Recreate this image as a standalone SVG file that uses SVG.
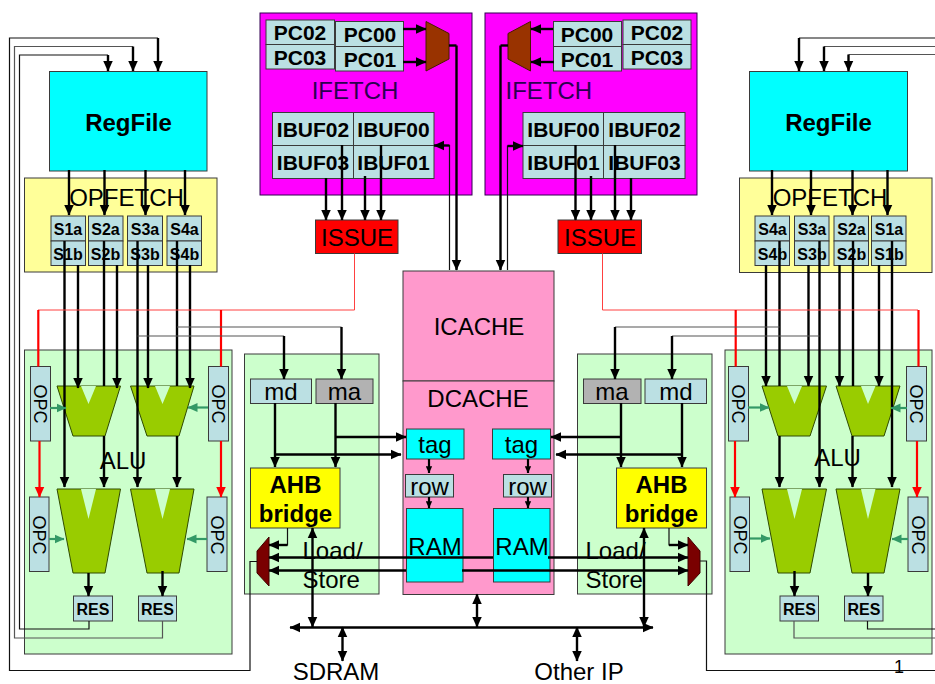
<svg xmlns="http://www.w3.org/2000/svg" width="935" height="684" viewBox="0 0 935 684">
<style>
text{font-family:"Liberation Sans",Arial,sans-serif;fill:#000;text-anchor:middle}
.s24{font-size:24px}.b24{font-size:24px;font-weight:bold}.b21{font-size:21px;font-weight:bold}.b16{font-size:16px;font-weight:bold}.s18{font-size:18px}
.st{text-anchor:start}
.pur{fill:#2b0050}
rect,polygon.n{stroke:#3a3a3a;stroke-width:1}
.box{fill:#bbe0e3}.grn{fill:#ccffcc}.cy{fill:#00ffff}.yl{fill:#ffff99}.mg{fill:#ff00ff;stroke:#300050}.pk{fill:#ff99cc}.rd{fill:#ff0000}.gy{fill:#b2b2b2}.ye{fill:#ffff00}
.ol{fill:#99cc00;stroke:#2f4a00;stroke-width:1}.nt{fill:#ccffcc}
.br{fill:#993300;stroke:#4a1a00;stroke-width:1}.dr{fill:#7a0000;stroke:#400000;stroke-width:1}
path{fill:none}
.k{stroke:#000;stroke-width:2.4;marker-end:url(#a)}
.ks{stroke:#000;stroke-width:2.2;marker-end:url(#as)}
.p{stroke:#000;stroke-width:2.4}
.d{stroke:#000;stroke-width:2.4;marker-start:url(#a);marker-end:url(#a)}
.th{stroke:#111;stroke-width:1.2}
.g{stroke:#555;stroke-width:1.2}
.r{stroke:#ff0000;stroke-width:2.2}
.ra{stroke:#ff0000;stroke-width:2.2;marker-end:url(#ar)}
.rt{stroke:#ff4040;stroke-width:1}
.t{stroke:#339966;stroke-width:2.2;marker-end:url(#at)}
</style>
<defs>
<marker id="a" viewBox="0 0 10 10" refX="9.5" refY="5" markerWidth="11" markerHeight="11" markerUnits="userSpaceOnUse" orient="auto-start-reverse"><path d="M0,0.5L10,5L0,9.5z" style="fill:#000"/></marker>
<marker id="as" viewBox="0 0 10 10" refX="9.5" refY="5" markerWidth="7" markerHeight="7" markerUnits="userSpaceOnUse" orient="auto"><path d="M0,0.5L10,5L0,9.5z" style="fill:#000"/></marker>
<marker id="ar" viewBox="0 0 10 10" refX="9.5" refY="5" markerWidth="11" markerHeight="11" markerUnits="userSpaceOnUse" orient="auto"><path d="M0,0.5L10,5L0,9.5z" style="fill:#ff0000"/></marker>
<marker id="at" viewBox="0 0 10 10" refX="9.5" refY="5" markerWidth="10" markerHeight="10" markerUnits="userSpaceOnUse" orient="auto"><path d="M0,0.5L10,5L0,9.5z" style="fill:#339966"/></marker>
</defs>

<g id="alu-left"><rect class="grn" x="24.5" y="350" width="207.5" height="304"/><text class="s24" x="123" y="469">ALU</text></g>
<g id="alu-right"><rect class="grn" x="725" y="350" width="207" height="304"/><text class="s24" x="837.5" y="466">ALU</text></g>
<g id="ls-left"><rect class="grn" x="244.5" y="354" width="134.5" height="240"/><text class="s24 st" x="302.5" y="559">Load/</text><text class="s24 st" x="302.5" y="588">Store</text></g>
<g id="ls-right"><rect class="grn" x="577.5" y="354" width="134.5" height="240"/><text class="s24 st" x="585.5" y="559">Load/</text><text class="s24 st" x="585.5" y="588">Store</text></g>

<g id="regfile-left"><rect class="cy" x="49.5" y="71.5" width="157.5" height="99.5"/><text class="b24" x="128.5" y="131">RegFile</text></g>
<g id="regfile-right"><rect class="cy" x="749.5" y="71.5" width="158" height="99.5"/><text class="b24" x="828.5" y="131">RegFile</text></g>
<g id="opfetch-left"><rect class="yl" x="24.5" y="178" width="192.5" height="94"/><text class="s24" x="126.5" y="206">OPFETCH</text></g>
<g id="opfetch-right"><rect class="yl" x="739.5" y="178" width="192.5" height="94.5"/><text class="s24" x="830" y="206">OPFETCH</text></g>

<g id="s1-left"><rect class="box" x="51" y="216" width="34.5" height="25"/><rect class="box" x="51" y="241" width="34.5" height="24.5"/><text class="b16" x="68" y="235">S1a</text><text class="b16" x="68" y="260">S1b</text></g>
<g id="s2-left"><rect class="box" x="88.5" y="216" width="34.5" height="25"/><rect class="box" x="88.5" y="241" width="34.5" height="24.5"/><text class="b16" x="105.5" y="235">S2a</text><text class="b16" x="105.5" y="260">S2b</text></g>
<g id="s3-left"><rect class="box" x="127.5" y="216" width="35" height="25"/><rect class="box" x="127.5" y="241" width="35" height="24.5"/><text class="b16" x="145" y="235">S3a</text><text class="b16" x="145" y="260">S3b</text></g>
<g id="s4-left"><rect class="box" x="167" y="216" width="34.5" height="25"/><rect class="box" x="167" y="241" width="34.5" height="24.5"/><text class="b16" x="184.5" y="235">S4a</text><text class="b16" x="184.5" y="260">S4b</text></g>
<g id="s4-right"><rect class="box" x="755" y="216" width="34.5" height="25"/><rect class="box" x="755" y="241" width="34.5" height="24.5"/><text class="b16" x="772.5" y="235">S4a</text><text class="b16" x="772.5" y="260">S4b</text></g>
<g id="s3-right"><rect class="box" x="794.5" y="216" width="34.5" height="25"/><rect class="box" x="794.5" y="241" width="34.5" height="24.5"/><text class="b16" x="812" y="235">S3a</text><text class="b16" x="812" y="260">S3b</text></g>
<g id="s2-right"><rect class="box" x="834" y="216" width="34.5" height="25"/><rect class="box" x="834" y="241" width="34.5" height="24.5"/><text class="b16" x="851.5" y="235">S2a</text><text class="b16" x="851.5" y="260">S2b</text></g>
<g id="s1-right"><rect class="box" x="871.5" y="216" width="34.5" height="25"/><rect class="box" x="871.5" y="241" width="34.5" height="24.5"/><text class="b16" x="889" y="235">S1a</text><text class="b16" x="889" y="260">S1b</text></g>

<g id="ifetch-left"><rect class="mg" x="260" y="13" width="212" height="182"/><text class="s24 pur" x="355" y="99">IFETCH</text></g>
<g id="ifetch-right"><rect class="mg" x="485" y="13" width="212" height="182"/><text class="s24 pur st" x="505.5" y="99">IFETCH</text></g>
<g id="pc-left"><rect class="box" x="266" y="20" width="68.5" height="24.5"/><rect class="box" x="266" y="44.5" width="68.5" height="24.5"/><text class="b21" x="300" y="40">PC02</text><text class="b21" x="300" y="65">PC03</text><rect class="box" x="335.5" y="21.5" width="68" height="25"/><rect class="box" x="335.5" y="46.5" width="68" height="24.5"/><text class="b21" x="370" y="42">PC00</text><text class="b21" x="370" y="67">PC01</text></g>
<g id="pc-right"><rect class="box" x="553.5" y="21.5" width="68" height="25"/><rect class="box" x="553.5" y="46.5" width="68" height="24.5"/><text class="b21" x="587" y="42">PC00</text><text class="b21" x="587" y="67">PC01</text><rect class="box" x="623" y="20" width="68" height="24.5"/><rect class="box" x="623" y="44.5" width="68" height="24.5"/><text class="b21" x="657" y="40">PC02</text><text class="b21" x="657" y="65">PC03</text></g>
<g id="pcmux-left"><polygon class="br" points="426,21.5 449,33.5 449,59 426,71"/></g>
<g id="pcmux-right"><polygon class="br" points="508,33.5 530.5,21.5 530.5,71 508,59"/></g>
<g id="ibuf-left"><rect class="box" x="272.5" y="112.5" width="81" height="33"/><rect class="box" x="353.5" y="112.5" width="80.5" height="33"/><rect class="box" x="272.5" y="145.5" width="81" height="33"/><rect class="box" x="353.5" y="145.5" width="80.5" height="33"/><text class="b21" x="313" y="137">IBUF02</text><text class="b21" x="393.5" y="137">IBUF00</text><text class="b21" x="313" y="170">IBUF03</text><text class="b21" x="393.5" y="170">IBUF01</text></g>
<g id="ibuf-right"><rect class="box" x="523" y="112.5" width="80.5" height="33"/><rect class="box" x="603.5" y="112.5" width="81.5" height="33"/><rect class="box" x="523" y="145.5" width="80.5" height="33"/><rect class="box" x="603.5" y="145.5" width="81.5" height="33"/><text class="b21" x="563.5" y="137">IBUF00</text><text class="b21" x="644.5" y="137">IBUF02</text><text class="b21" x="563.5" y="170">IBUF01</text><text class="b21" x="644.5" y="170">IBUF03</text></g>
<g id="issue-left"><rect class="rd" x="315.5" y="220" width="82.5" height="33.5"/><text class="s24" x="357" y="246">ISSUE</text></g>
<g id="issue-right"><rect class="rd" x="558" y="220" width="83.5" height="33.5"/><text class="s24" x="600" y="246">ISSUE</text></g>

<g id="icache"><rect class="pk" x="403" y="271" width="151" height="110"/><text class="s24" x="479" y="335">ICACHE</text></g>
<g id="dcache"><rect class="pk" x="403" y="381" width="151" height="213.5"/><text class="s24" x="478" y="407">DCACHE</text></g>
<g id="tag-left"><rect class="cy" x="406.5" y="429" width="57.5" height="30"/><text class="s24" x="435" y="453">tag</text></g>
<g id="tag-right"><rect class="cy" x="492.5" y="429" width="58" height="30"/><text class="s24" x="521.5" y="453">tag</text></g>
<g id="row-left"><rect class="box" x="405.5" y="474.5" width="48" height="22.5"/><text class="s24" x="429.5" y="495">row</text></g>
<g id="row-right"><rect class="box" x="503.5" y="474.5" width="48" height="22.5"/><text class="s24" x="527.5" y="495">row</text></g>
<g id="ram-left"><rect class="cy" x="406.5" y="508.5" width="56.5" height="73.5"/><text class="s24" x="435" y="555">RAM</text></g>
<g id="ram-right"><rect class="cy" x="493.5" y="508.5" width="56.5" height="73.5"/><text class="s24" x="522" y="555">RAM</text></g>

<g id="md-left"><rect class="box" x="250.5" y="379" width="61" height="24.5"/><text class="s24" x="281" y="400">md</text></g>
<g id="ma-left"><rect class="gy" x="316" y="379" width="57" height="24.5"/><text class="s24" x="344.5" y="400">ma</text></g>
<g id="ma-right"><rect class="gy" x="583.5" y="379" width="57.5" height="24.5"/><text class="s24" x="612" y="400">ma</text></g>
<g id="md-right"><rect class="box" x="645" y="379" width="61.5" height="24.5"/><text class="s24" x="676" y="400">md</text></g>
<g id="ahb-left"><rect class="ye" x="250.5" y="468" width="89.5" height="60"/><text class="b24" x="295.5" y="493">AHB</text><text class="b24" x="295.5" y="522">bridge</text></g>
<g id="ahb-right"><rect class="ye" x="616.5" y="468" width="90" height="60"/><text class="b24" x="661.5" y="493">AHB</text><text class="b24" x="661.5" y="522">bridge</text></g>
<g id="mux-left"><polygon class="dr" points="269,537 269,586 257,573 257,551"/></g>
<g id="mux-right"><polygon class="dr" points="688,537 688,586 700,573 700,551"/></g>

<g id="alu1-left"><polygon class="ol" points="57,386 120.5,386 105,436 73,436"/><polygon class="nt" points="81,386 96,386 88.5,404"/></g>
<g id="alu2-left"><polygon class="ol" points="130.5,386 194,386 179,436 147,436"/><polygon class="nt" points="155,386 170,386 162.5,404"/></g>
<g id="alu3-left"><polygon class="ol" points="57,489 120.5,489 105,573 73,573"/><polygon class="nt" points="81,489 96,489 88.5,519"/></g>
<g id="alu4-left"><polygon class="ol" points="130.5,489 194,489 179,573 147,573"/><polygon class="nt" points="155,489 170,489 162.5,519"/></g>
<g id="alu1-right"><polygon class="ol" points="762,386 826.5,386 810,436 778,436"/><polygon class="nt" points="787,386 802,386 794.5,404"/></g>
<g id="alu2-right"><polygon class="ol" points="836,386 900,386 884,436 852,436"/><polygon class="nt" points="861,386 875.5,386 868,404"/></g>
<g id="alu3-right"><polygon class="ol" points="762,489 826.5,489 810,573 778,573"/><polygon class="nt" points="787,489 802,489 794.5,519"/></g>
<g id="alu4-right"><polygon class="ol" points="836,489 900,489 884,573 852,573"/><polygon class="nt" points="861,489 875.5,489 868,519"/></g>

<g id="opc1"><rect class="box" x="30.5" y="366.5" width="20" height="74.5"/><text class="s18" transform="rotate(90 40.5 404)" x="40.5" y="410.4">OPC</text></g>
<g id="opc2"><rect class="box" x="29.5" y="497" width="19.5" height="74.5"/><text class="s18" transform="rotate(90 39 535)" x="39" y="541.4">OPC</text></g>
<g id="opc3"><rect class="box" x="208.5" y="366.5" width="20" height="74.5"/><text class="s18" transform="rotate(90 218.5 404)" x="218.5" y="410.4">OPC</text></g>
<g id="opc4"><rect class="box" x="207" y="497" width="20" height="74.5"/><text class="s18" transform="rotate(90 217 535)" x="217" y="541.4">OPC</text></g>
<g id="opc5"><rect class="box" x="728.5" y="366.5" width="20" height="74.5"/><text class="s18" transform="rotate(90 738.5 404)" x="738.5" y="410.4">OPC</text></g>
<g id="opc6"><rect class="box" x="730" y="497" width="19.5" height="74.5"/><text class="s18" transform="rotate(90 740 535)" x="740" y="541.4">OPC</text></g>
<g id="opc7"><rect class="box" x="906.5" y="366.5" width="20" height="74.5"/><text class="s18" transform="rotate(90 916.5 404)" x="916.5" y="410.4">OPC</text></g>
<g id="opc8"><rect class="box" x="908" y="497" width="20" height="74.5"/><text class="s18" transform="rotate(90 918 535)" x="918" y="541.4">OPC</text></g>

<g id="res1"><rect class="box" x="73.5" y="596" width="39" height="25"/><text class="b16" x="93" y="615">RES</text></g>
<g id="res2"><rect class="box" x="138.5" y="596" width="38" height="25"/><text class="b16" x="157.5" y="615">RES</text></g>
<g id="res3"><rect class="box" x="780" y="596" width="38.5" height="25"/><text class="b16" x="799.5" y="615">RES</text></g>
<g id="res4"><rect class="box" x="844.5" y="596" width="38.5" height="25"/><text class="b16" x="864" y="615">RES</text></g>

<g id="sdram"><text class="s24" x="336" y="680">SDRAM</text></g>
<g id="otherip"><text class="s24" x="579" y="680">Other IP</text></g>
<text class="s18" x="899" y="673">1</text>

<g id="connectors">
<path class="th" d="M257,561.5H250V670.5H9.5V38H158"/>
<path class="g" d="M162.5,621V638H14.5V46.5H133"/>
<path class="th" d="M89,621V629H19.5V55H108"/>
<path class="k" d="M158,38V71"/><path class="k" d="M133,46.5V71"/><path class="k" d="M108,55V71"/>
<path class="th" d="M700,561H706.5V670.5H935"/>
<path class="g" d="M794,621V638H935"/>
<path class="th" d="M867.5,621V629H935"/>
<path class="th" d="M799,38H935"/><path class="g" d="M824,46.5H935"/><path class="g" d="M848.5,54.5H935"/>
<path class="k" d="M799,38V71"/><path class="k" d="M824,46.5V71"/><path class="k" d="M848.5,54.5V71"/>
<path class="k" d="M69,170V215"/><path class="k" d="M104.5,170V215"/><path class="k" d="M145.5,170V215"/><path class="k" d="M185,170V215"/>
<path class="k" d="M772,170V215"/><path class="k" d="M811,170V215"/><path class="k" d="M852.5,170V215"/><path class="k" d="M887.5,170V215"/>
<path class="k" d="M64.5,241V487"/><path class="k" d="M78,265V388"/><path class="p" d="M104,241V386"/><path class="k" d="M117,265V388"/>
<path class="k" d="M137.5,241V487"/><path class="k" d="M148,265V388"/><path class="p" d="M177,241V386"/><path class="k" d="M190,265V388"/>
<path class="k" d="M104,436V487"/><path class="k" d="M177,436V487"/>
<path class="k" d="M766,265V386"/><path class="p" d="M779.5,241V386"/><path class="k" d="M808.5,265V386"/><path class="k" d="M819.5,241V487"/>
<path class="k" d="M839.5,265V386"/><path class="p" d="M853,241V386"/><path class="k" d="M879,265V386"/><path class="k" d="M892,241V487"/>
<path class="k" d="M779.5,436V487"/><path class="k" d="M852.5,436V487"/>
<path class="k" d="M88.5,573V596"/><path class="k" d="M162.5,571V596"/><path class="k" d="M794.5,571V596"/><path class="k" d="M868,573V596"/>
<path class="t" d="M50,408H66"/><path class="t" d="M49,539H64"/><path class="t" d="M208,407.5H188"/><path class="t" d="M207,539H187"/>
<path class="t" d="M748,407.5H769"/><path class="t" d="M750,538.5H770"/><path class="t" d="M907,408H891"/><path class="t" d="M908,539H892"/>
<path class="rt" d="M354.5,253.5V310H38"/><path class="rt" d="M602.5,253.5V310H918"/>
<path class="r" d="M38.3,310V366.5"/><path class="r" d="M221,310V366.5"/><path class="r" d="M735.7,310V366.5"/><path class="r" d="M918.5,310V366.5"/>
<path class="ra" d="M39.5,441V497"/><path class="ra" d="M221,441V497"/><path class="ra" d="M735,441V497"/><path class="ra" d="M917,441V497"/>
<path class="k" d="M403,29H426"/><path class="k" d="M403,62H426"/>
<path class="k" d="M553,29H531"/><path class="k" d="M554,62H531"/>
<path class="p" d="M449,45.5H456.5"/><path class="k" d="M456.5,45.5V270"/>
<path class="p" d="M508,45.5H500.5"/><path class="k" d="M500.5,45.5V270"/>
<path class="th" d="M449.5,270V145.5H440"/><path class="k" d="M449.5,145.5H434"/>
<path class="th" d="M507.5,270V146H515"/><path class="k" d="M507.5,146H523"/>
<path class="k" d="M326,178V220"/><path class="k" d="M342,145V220"/><path class="k" d="M365,176V220"/><path class="k" d="M381,145V220"/>
<path class="k" d="M575.5,145V220"/><path class="k" d="M591,176V220"/><path class="k" d="M615,145V220"/><path class="k" d="M631,178V220"/>
<path class="g" d="M177,327H341.5"/><path class="g" d="M137.5,336H284"/>
<path class="k" d="M341.5,327V379"/><path class="k" d="M284,336V379"/>
<path class="g" d="M779.5,327H615"/><path class="g" d="M819.5,336H672"/>
<path class="k" d="M615,327V379"/><path class="k" d="M672,336V379"/>
<path class="k" d="M275,403V467"/><path class="k" d="M335.5,403V467"/><path class="k" d="M336,437H406"/><path class="k" d="M275,454.5H401"/>
<path class="k" d="M621,403V467"/><path class="k" d="M682,403V467"/><path class="k" d="M621,437H551"/><path class="k" d="M682,454.5H556"/>
<path class="ks" d="M429,459V473"/><path class="ks" d="M429,497V508"/><path class="ks" d="M528,459V473"/><path class="ks" d="M528,497V508"/>
<path class="th" d="M287.5,528V545H280"/><path class="k" d="M287.5,545H269"/>
<path class="th" d="M669,528V545H675"/><path class="k" d="M669,545H688"/>
<path class="k" d="M493,557.5H269"/><path class="k" d="M406,570.5H269"/>
<path class="k" d="M548,557.5H688"/><path class="k" d="M462,570.5H688"/>
<path class="d" d="M290,627.5H653"/>
<path class="d" d="M312.5,528V627"/><path class="d" d="M644,528V627"/>
<path class="d" d="M342.5,627V661"/><path class="d" d="M577,627V661"/><path class="d" d="M477,594V627"/>
</g>
</svg>
